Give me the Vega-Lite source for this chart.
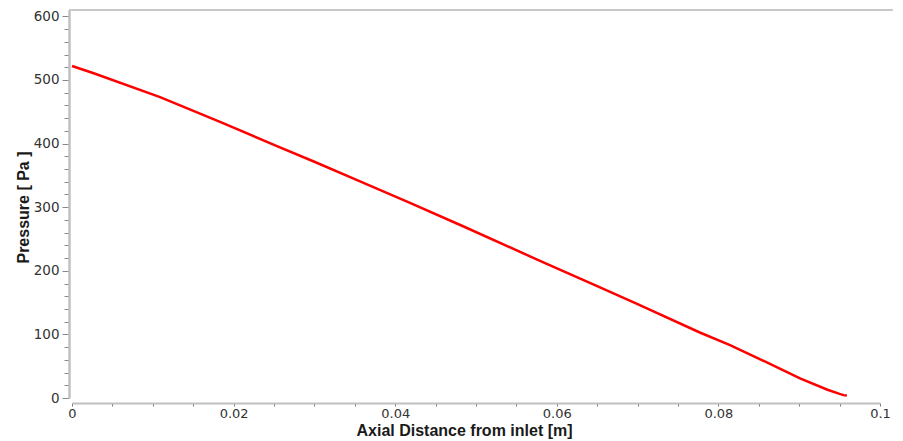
{
  "$schema": "https://vega.github.io/schema/vega-lite/v6.json",
  "width": 808,
  "height": 388,
  "autosize": "none",
  "padding": {"left": 72, "top": 10, "right": 23, "bottom": 43},
  "background": "white",
  "config": {
    "view": {"stroke": null},
    "font": "DejaVu Sans",
    "axis": {"labelOverlap": false, "labelFlush": false, "grid": false}
  },
  "data": {
    "values": [
      {"x": 0, "p": 522},
      {"x": 0.0026, "p": 511},
      {"x": 0.0109, "p": 473},
      {"x": 0.01832, "p": 434},
      {"x": 0.025, "p": 398},
      {"x": 0.03007, "p": 371},
      {"x": 0.035, "p": 344},
      {"x": 0.04183, "p": 306.7},
      {"x": 0.0484, "p": 270},
      {"x": 0.05792, "p": 215.6},
      {"x": 0.06535, "p": 174},
      {"x": 0.07, "p": 147.5},
      {"x": 0.0777, "p": 103},
      {"x": 0.08144, "p": 83},
      {"x": 0.086, "p": 56},
      {"x": 0.0901, "p": 31},
      {"x": 0.0935, "p": 13},
      {"x": 0.095, "p": 6.5},
      {"x": 0.0955, "p": 4.5},
      {"x": 0.0959, "p": 4}
    ]
  },
  "layer": [
    {
      "mark": {"type": "line", "color": "#ff0000", "strokeWidth": 2.5, "clip": false},
      "encoding": {
        "x": {
          "field": "x",
          "type": "quantitative",
          "scale": {"domain": [0, 0.1], "nice": false, "zero": false},
          "axis": {
            "values": [0, 0.005, 0.01, 0.015, 0.02, 0.025, 0.03, 0.035, 0.04, 0.045, 0.05, 0.055, 0.06, 0.065, 0.07, 0.075, 0.08, 0.085, 0.09, 0.095, 0.1],
            "format": "~g",
            "labelExpr": "abs(datum.value * 50 - round(datum.value * 50)) < 1e-6 ? datum.label : ''",
            "offset": 5,
            "tickSize": 3,
            "tickColor": "#777",
            "domainColor": "#c0c0c0",
            "domainWidth": 2,
            "labelFontSize": 13,
            "labelColor": "#333",
            "labelPadding": 1,
            "labelOverlap": false,
            "labelFlush": false,
            "labelBound": false,
            "grid": false,
            "title": "Axial Distance from inlet [m]",
            "titleFont": "Liberation Sans",
            "titleFontWeight": "bold",
            "titleFontSize": 16,
            "titleColor": "#1a1a1a",
            "titleX": 392,
            "titleY": 32,
            "titleAlign": "center",
            "titleBaseline": "alphabetic"
          }
        },
        "y": {
          "field": "p",
          "type": "quantitative",
          "scale": {"domain": [0, 610], "nice": false, "zero": false},
          "axis": {
            "values": [0, 20, 40, 60, 80, 100, 120, 140, 160, 180, 200, 220, 240, 260, 280, 300, 320, 340, 360, 380, 400, 420, 440, 460, 480, 500, 520, 540, 560, 580, 600],
            "format": "d",
            "labelExpr": "datum.value % 100 === 0 ? datum.label : ''",
            "offset": 3,
            "tickSize": {"condition": {"test": "datum.value % 100 === 0", "value": 7}, "value": 5},
            "tickColor": "#888",
            "domainColor": "#c0c0c0",
            "domainWidth": 2.5,
            "labelFontSize": 13.5,
            "labelColor": "#333",
            "labelPadding": 3,
            "labelOverlap": false,
            "labelFlush": false,
            "grid": false,
            "title": "Pressure [ Pa ]",
            "titleFont": "Liberation Sans",
            "titleFontWeight": "bold",
            "titleFontSize": 16,
            "titleColor": "#1a1a1a",
            "titleAngle": -90,
            "titleX": -41,
            "titleY": 197,
            "titleAlign": "center",
            "titleBaseline": "alphabetic"
          }
        }
      }
    },
    {
      "mark": {"type": "rule", "color": "#c8c8c8", "strokeWidth": 2},
      "encoding": {
        "x": {
          "datum": -0.00037,
          "type": "quantitative",
          "scale": {"domain": [0, 0.1], "nice": false, "zero": false},
          "axis": {
            "values": [0, 0.005, 0.01, 0.015, 0.02, 0.025, 0.03, 0.035, 0.04, 0.045, 0.05, 0.055, 0.06, 0.065, 0.07, 0.075, 0.08, 0.085, 0.09, 0.095, 0.1],
            "format": "~g",
            "labelExpr": "abs(datum.value * 50 - round(datum.value * 50)) < 1e-6 ? datum.label : ''",
            "offset": 5,
            "tickSize": 3,
            "tickColor": "#777",
            "domainColor": "#c0c0c0",
            "domainWidth": 2,
            "labelFontSize": 13,
            "labelColor": "#333",
            "labelPadding": 1,
            "labelOverlap": false,
            "labelFlush": false,
            "labelBound": false,
            "grid": false,
            "title": "Axial Distance from inlet [m]",
            "titleFont": "Liberation Sans",
            "titleFontWeight": "bold",
            "titleFontSize": 16,
            "titleColor": "#1a1a1a",
            "titleX": 392,
            "titleY": 32,
            "titleAlign": "center",
            "titleBaseline": "alphabetic"
          }
        },
        "x2": {"datum": 0.1015},
        "y": {
          "datum": 610,
          "type": "quantitative",
          "scale": {"domain": [0, 610], "nice": false, "zero": false},
          "axis": {
            "values": [0, 20, 40, 60, 80, 100, 120, 140, 160, 180, 200, 220, 240, 260, 280, 300, 320, 340, 360, 380, 400, 420, 440, 460, 480, 500, 520, 540, 560, 580, 600],
            "format": "d",
            "labelExpr": "datum.value % 100 === 0 ? datum.label : ''",
            "offset": 3,
            "tickSize": {"condition": {"test": "datum.value % 100 === 0", "value": 7}, "value": 5},
            "tickColor": "#888",
            "domainColor": "#c0c0c0",
            "domainWidth": 2.5,
            "labelFontSize": 13.5,
            "labelColor": "#333",
            "labelPadding": 3,
            "labelOverlap": false,
            "labelFlush": false,
            "grid": false,
            "title": "Pressure [ Pa ]",
            "titleFont": "Liberation Sans",
            "titleFontWeight": "bold",
            "titleFontSize": 16,
            "titleColor": "#1a1a1a",
            "titleAngle": -90,
            "titleX": -41,
            "titleY": 197,
            "titleAlign": "center",
            "titleBaseline": "alphabetic"
          }
        }
      }
    }
  ]
}
